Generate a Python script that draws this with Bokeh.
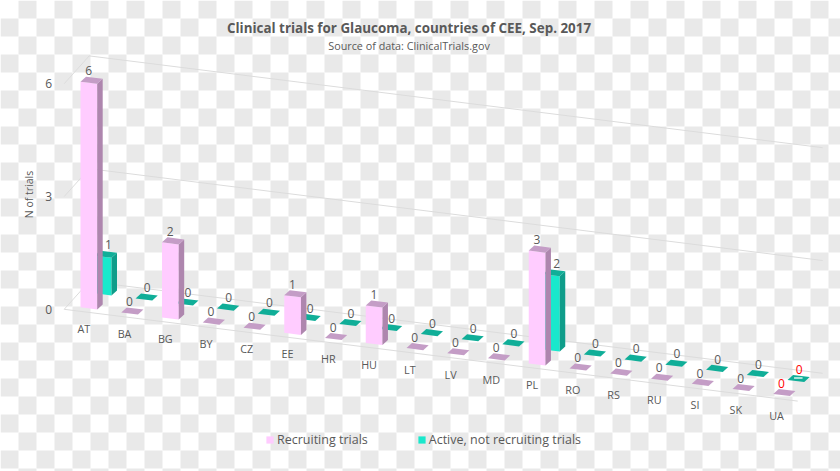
from bokeh.plotting import figure
from bokeh.embed import file_html
from bokeh.resources import INLINE
from bokeh.models import Range1d, Legend, LegendItem
from bokeh.core.properties import value

# ---- data ----
countries = ["AT","BA","BG","BY","CZ","EE","HR","HU","LT","LV","MD","PL","RO","RS","RU","SI","SK","UA"]
recruiting = [6,0,2,0,0,1,0,1,0,0,0,3,0,0,0,0,0,0]
active     = [1,0,0,0,0,0,0,0,0,0,0,2,0,0,0,0,0,0]
y_ticks = [0,3,6]
title = "Clinical trials for Glaucoma, countries of CEE, Sep. 2017"
subtitle = "Source of data: ClinicalTrials.gov"
y_title = "N of trials"
series_names = ["Recruiting trials", "Active, not recruiting trials"]

# ---- oblique projection of (category, series, value) on to the page ----
X0, Y0 = 80.0, 306.8        # front-left foot of first bar
STEP_X, STEP_Y = 40.75, 5.1 # one category along the floor
UNIT = 37.6                 # one trial, upwards
SER_X, SER_Y = 14.3, -14.0  # from the first series to the second
W_X, W_Y = 16.7, 2.1        # front face width
D_X, D_Y = 5.5, -5.0        # bar depth

def proj(i, s, v):
    return X0 + i*STEP_X + s*SER_X, Y0 + i*STEP_Y + s*SER_Y - v*UNIT

def faces(vals, s):
    front_x, front_y, side_x, side_y, top_x, top_y = [], [], [], [], [], []
    for i, v in enumerate(vals):
        bx, by = proj(i, s, 0)
        tx, ty = proj(i, s, v)
        if v > 0:
            front_x.append([bx, bx+W_X, tx+W_X, tx])
            front_y.append([by, by+W_Y, ty+W_Y, ty])
            side_x.append([bx+W_X, bx+W_X+D_X, tx+W_X+D_X, tx+W_X])
            side_y.append([by+W_Y, by+W_Y+D_Y, ty+W_Y+D_Y, ty+W_Y])
        top_x.append([tx, tx+W_X, tx+W_X+D_X, tx+D_X])
        top_y.append([ty, ty+W_Y, ty+W_Y+D_Y, ty+D_Y])
    return front_x, front_y, side_x, side_y, top_x, top_y

p = figure(width=840, height=471, output_backend="svg", toolbar_location=None,
           x_range=Range1d(0, 840), y_range=Range1d(471, 0),
           min_border=0, outline_line_color=None, background_fill_color="white")
p.axis.visible = False
p.grid.visible = False

# chequered backdrop
CELL = 18
cx, cy = [], []
for r in range(0, 27):
    for c in range(0, 47):
        if (r + c) % 2 == 1:
            cx.append(c*CELL + CELL/2); cy.append(r*CELL + CELL/2)
p.rect(cx, cy, width=CELL, height=CELL, fill_color="#e9e9e9", line_color=None)

# grid: left wall, back wall and floor front edge
GRID = "#dcdcdc"
n = len(countries)
LEFT_X, LEFT_Y = -16.3, 2.0       # front-left floor corner relative to first bar
BACK_X, BACK_Y = 8.7, -25.8       # back-left floor corner relative to first bar
for t in y_ticks:
    lx, ly = proj(0, 0, t)
    rx, ry = proj(n, 0, t)
    p.line([lx+LEFT_X, lx+BACK_X, rx+BACK_X], [ly+LEFT_Y, ly+BACK_Y, ry+BACK_Y], line_color=GRID, line_width=1)
lx, ly = proj(0, 0, 0)
rx, ry = proj(n, 0, 0)
p.line([lx+LEFT_X, rx+LEFT_X], [ly+LEFT_Y, ry+LEFT_Y], line_color=GRID, line_width=1)

# bars: back series first
styles = [("#ffccff", "#ae86ae", "#c49dc6"), ("#19e8cc", "#0f9d8a", "#10ae98")]
renderers = []
for s, vals in [(1, active), (0, recruiting)]:
    fx, fy, sx, sy, tx, ty = faces(vals, s)
    col = styles[s]
    rf = p.patches(fx, fy, fill_color=col[0], line_color=None)
    p.patches(sx, sy, fill_color=col[1], line_color=None)
    p.patches(tx, ty, fill_color=col[2], line_color=None)
    renderers.append((s, rf))
rend = dict(renderers)

# small pale strip on the last tile, under its label
ux, uy = proj(n-1, 1, 0)
p.line([ux+6.5, ux+15], [uy-2, uy-2], line_color="#d8f5ef", line_width=1.5)

FONT = value("Open Sans")
TXT = "#595959"

def put(x, y, t, size, color=TXT, style="normal", angle=0):
    p.text([x], [y], text=[t], text_font=FONT, text_font_size=size, text_color=color,
           text_font_style=style, text_align="center", text_baseline="middle", angle=angle)

# data labels
labels = [(recruiting, 0, 8.3, 0.0), (active, 1, 11.7, 2.0)]
for vals, s, off, tall_off in labels:
    xs, ys, ts, cols = [], [], [], []
    for i, v in enumerate(vals):
        tx, ty = proj(i, s, v)
        xs.append(tx + off + (tall_off if v > 0 else 0)); ys.append(ty-10.8); ts.append(str(v))
        cols.append("#ff0000" if i == n-1 else TXT)
    p.text(xs, ys, text=ts, text_font=FONT, text_font_size="12px", text_color=cols,
           text_align="center", text_baseline="middle")

# category labels
xs = [proj(i, 0, 0)[0] + 3.3 for i in range(n)]
ys = [proj(i, 0, 0)[1] + 21 for i in range(n)]
p.text(xs, ys, text=countries, text_font=FONT, text_font_size="10.8px", text_color=TXT,
       text_align="center", text_baseline="middle")

# value-axis labels
xs = [48.3 for t in y_ticks]
ys = [proj(0, 0, t)[1] + 2.2 for t in y_ticks]
p.text(xs, ys, text=[str(t) for t in y_ticks], text_font=FONT, text_font_size="12px", text_color=TXT,
       text_align="center", text_baseline="middle")

put(28.5, 194, y_title, "10.5px", angle=1.5708)
put(408.5, 27.5, title, "13.4px", style="bold")
put(408.5, 44.5, subtitle, "10.8px")

legend = Legend(items=[LegendItem(label=series_names[0], renderers=[rend[0]]),
                       LegendItem(label=series_names[1], renderers=[rend[1]])],
                orientation="horizontal", location=(265, 23), background_fill_alpha=0,
                border_line_color=None, glyph_width=9, glyph_height=9, label_standoff=3,
                spacing=49, padding=0, margin=0,
                label_text_font="Open Sans", label_text_font_size="12.5px", label_text_color=TXT)
p.add_layout(legend, "center")

open("out.html", "w").write(file_html(p, INLINE))
